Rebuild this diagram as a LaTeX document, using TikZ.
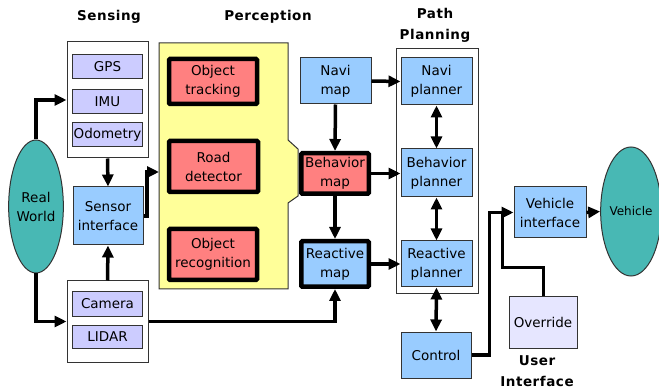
\documentclass[tikz,border=0pt]{standalone}
\usepackage{fontspec}
\setmainfont{DejaVu Sans}
\newfontfamily\titlefont[LetterSpace=4]{DejaVu Sans}
\usetikzlibrary{arrows.meta,shapes.geometric,calc}

\definecolor{mapblue}{HTML}{99CCFF}
\definecolor{perred}{HTML}{FF8080}
\definecolor{senslav}{HTML}{CCCCFF}
\definecolor{ovlav}{HTML}{E6E6FF}
\definecolor{percyel}{HTML}{FFFF99}
\definecolor{worldteal}{HTML}{48B8B4}
\definecolor{edgegray}{HTML}{333333}

\tikzset{
  basebox/.style={rectangle, inner sep=0pt, align=center,
    font=\fontsize{13.5}{19}\selectfont},
  thinbox/.style={basebox, draw=edgegray, line width=1pt},
  sensbox/.style={thinbox, fill=senslav, minimum width=70pt, minimum height=24pt},
  bluebox/.style={thinbox, fill=mapblue},
  thickred/.style={basebox, draw=black, line width=4.5pt, fill=perred, rounded corners=1pt},
  thickblue/.style={basebox, draw=black, line width=4.5pt, fill=mapblue, rounded corners=1pt},
  groupbox/.style={rectangle, draw=edgegray, line width=1pt, fill=white, inner sep=0pt},
  blob/.style={ellipse, draw=edgegray, line width=1pt, fill=worldteal, inner sep=0pt, align=center},
  title/.style={align=center, font=\titlefont\bfseries\fontsize{13.5}{21}\selectfont},
  arr/.style={line width=3.5pt, -{Triangle[length=12pt,width=11pt]}},
  dblarr/.style={line width=3.5pt, {Triangle[length=12pt,width=11pt]}-{Triangle[length=12pt,width=11pt]}},
  plainline/.style={line width=3pt}
}

\begin{document}
\begin{tikzpicture}[x=1pt, y=-1pt]
\useasboundingbox (0,0) rectangle (659,390);

% headings
\node[title] (tsens) at (109,17) {Sensing};
\node[title] (tperc) at (268,17) {Perception};
\node[title] (tpath) at (435,25.5) {Path\\Planning};
\node[title] (tuser) at (537,371) {User\\Interface};

% perception area with its tab towards the behavior map
\draw[draw=edgegray, line width=1pt, fill=percyel]
  (159,43) -- (288,43) -- (288,140) -- (298,149) -- (298,196)
  -- (288,203) -- (288,289) -- (159,289) -- cycle;
\coordinate (percin) at (159,172);

% sensor groups
\node[groupbox, minimum width=81pt, minimum height=116pt] (sensA) at (107.5,100) {};
\node[groupbox, minimum width=81pt, minimum height=81pt] (sensB) at (107.5,321.5) {};
\node[sensbox] (gps) at (107.5,67) {GPS};
\node[sensbox] (imu) at (107.5,102) {IMU};
\node[sensbox] (odo) at (107.5,135) {Odometry};
\node[sensbox] (cam) at (107.5,304) {Camera};
\node[sensbox, minimum height=23pt] (lidar) at (107.5,336.5) {LIDAR};
\node[bluebox, minimum width=70pt, minimum height=58pt] (si) at (108,216) {Sensor\\interface};

% environment and vehicle
\node[blob, minimum width=44pt, minimum height=133pt, font=\fontsize{13.5}{19}\selectfont] (rw) at (36,206.5) {Real\\World};
\node[blob, minimum width=48pt, minimum height=129pt, font=\fontsize{12}{15}\selectfont] (veh) at (631,211.5) {Vehicle};

% perception modules
\node[thickred, minimum width=88pt, minimum height=45pt] (track) at (213,81.5) {Object\\tracking};
\node[thickred, minimum width=89pt, minimum height=51pt] (road) at (213.5,166.5) {Road\\detector};
\node[thickred, minimum width=88pt, minimum height=51pt] (recog) at (213,254.5) {Object\\recognition};

% maps
\node[bluebox, minimum width=71pt, minimum height=46pt] (navimap) at (335.5,81) {Navi\\map};
\node[thickred, minimum width=67.5pt, minimum height=40.5pt] (behmap) at (335,173.5) {Behavior\\map};
\node[thickblue, minimum width=67.5pt, minimum height=45.5pt] (reactmap) at (335,264) {Reactive\\map};

% path planning
\node[groupbox, minimum width=82pt, minimum height=245pt] (ppbox) at (437,171.5) {};
\node[bluebox, minimum width=71pt, minimum height=47pt] (naviplan) at (436.5,81.5) {Navi\\planner};
\node[bluebox, minimum width=71pt, minimum height=48pt] (behplan) at (436.5,173) {Behavior\\planner};
\node[bluebox, minimum width=71pt, minimum height=46pt] (reactplan) at (436.5,264) {Reactive\\planner};
\node[bluebox, minimum width=70pt, minimum height=46pt] (control) at (436,355) {Control};

% vehicle side
\node[bluebox, minimum width=72pt, minimum height=51pt] (vi) at (550,212.5) {Vehicle\\interface};
\node[thinbox, fill=ovlav, minimum width=68pt, minimum height=51pt] (ov) at (543,322.5) {Override};
\coordinate (ovbend) at (502,268);
\coordinate (ovjoin) at (502,212.5);

% connectors
\draw[arr] (rw.north) |- (sensA.west);
\draw[arr] (rw.south) |- (sensB.west);
\draw[arr] (sensA.south) -- (si.north);
\draw[arr] (sensB.north) -- (si.south);
\draw[arr] (si.east) -- ++(3.5,0) |- (percin);
\draw[arr] (sensB.east) -| (reactmap.south);
\draw[arr] (navimap.south) -- (behmap.north);
\draw[arr] (behmap.south) -- (reactmap.north);
\draw[arr] (navimap.east) -- (naviplan.west);
\draw[arr] (behmap.east) -- (behmap.east -| behplan.west);
\draw[arr] (reactmap.east) -- (reactplan.west);
\draw[dblarr] (naviplan.south) -- (behplan.north);
\draw[dblarr] (behplan.south) -- (reactplan.north);
\draw[dblarr] (reactplan.south) -- (control.north);
\draw[arr] (control.east) -- ++(18,0) |- (vi.west);
\draw[plainline] (ov.north) |- (ovbend) -- (ovjoin);
\draw[arr] (vi.east) -- (veh.west);
\end{tikzpicture}
\end{document}
